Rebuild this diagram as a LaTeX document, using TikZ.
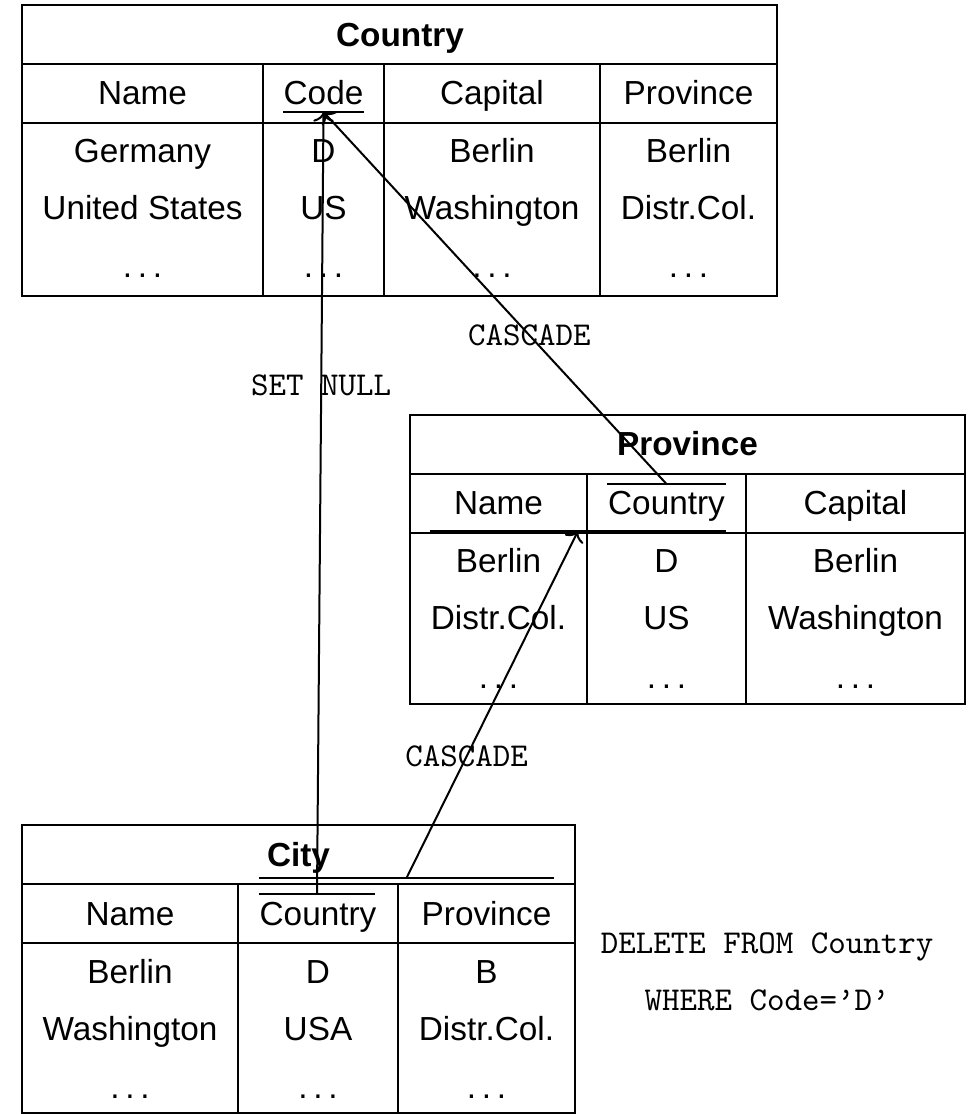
\documentclass[tikz,border=0pt]{standalone}
\usepackage{fontspec}
\setmainfont{Liberation Sans}
\usetikzlibrary{arrows.meta,calc}

\newcommand\rowdots{.\kern.17em.\kern.17em.}
\tikzset{cell/.style={anchor=base,inner sep=0pt},
		keyline/.style={line width=.8pt},
		rulelabel/.style={font=\ttfamily,inner sep=0pt}}

\begin{document}
\begin{tikzpicture}[x=.3pt,y=-.3pt,semithick]
			\useasboundingbox (0,0) rectangle (967,1114);
			% Country
			\draw (22,5) rectangle (777,296) (22,64) -- (777,64) (22,123) -- (777,123)
			(263,64) -- (263,296) (384,64) -- (384,296) (600,64) -- (600,296);
			\node[cell,font=\bfseries] (country) at (400,47) {Country};
			\foreach \x/\t/\a/\b [count=\i] in {142.5/Name/Germany/United States,323.5/Code/D/US,
				492/Capital/Berlin/Washington,688.5/Province/Berlin/Distr.Col.}{
				\node[cell] (ctry-h\i) at (\x,105) {\t};
				\node[cell] (ctry-\i-1) at (\x,163) {\a};
				\node[cell] (ctry-\i-2) at (\x,220) {\b};
				\node[cell] (ctry-\i-3) at (\x,278) {\rowdots};
			}
			\draw[keyline] (283,112) -- coordinate (code) (364,112);
			% Province
			\draw (410,415) rectangle (965,704) (410,474) -- (965,474) (410,533) -- (965,533)
			(587,474) -- (587,704) (746,474) -- (746,704);
			\node[cell,font=\bfseries] (province) at (687.5,456) {Province};
			\foreach \x/\t/\a/\b [count=\i] in {498.5/Name/Berlin/Distr.Col.,666.5/Country/D/US,
				855.5/Capital/Berlin/Washington}{
				\node[cell] (prov-h\i) at (\x,515) {\t};
				\node[cell] (prov-\i-1) at (\x,573) {\a};
				\node[cell] (prov-\i-2) at (\x,630) {\b};
				\node[cell] (prov-\i-3) at (\x,688) {\rowdots};
			}
			\draw[keyline] (607,484) -- coordinate (provctry) (726,484);
			\draw[keyline] (430,531) -- coordinate (provkey) (726,531);
			% City
			\draw (22,825) rectangle (575,1113) (22,884) -- (575,884) (22,943) -- (575,943)
			(238,884) -- (238,1113) (398,884) -- (398,1113);
			\node[cell,font=\bfseries] (city) at (298.5,866) {City};
			\foreach \x/\t/\a/\b [count=\i] in {130/Name/Berlin/Washington,318/Country/D/USA,
				486.5/Province/B/Distr.Col.}{
				\node[cell] (city-h\i) at (\x,925) {\t};
				\node[cell] (city-\i-1) at (\x,983) {\a};
				\node[cell] (city-\i-2) at (\x,1040) {\b};
				\node[cell] (city-\i-3) at (\x,1098) {\rowdots};
			}
			\draw[keyline] (259,894) -- coordinate (cityctry) (375,894);
			\draw[keyline] (259,878) -- coordinate (citykey) (554,878);
			% references
			\draw[->] (cityctry) -- node[rulelabel,pos=.65] (setnull) {SET NULL} (code);
			\draw[->] (provctry) -- node[rulelabel,pos=.40] (cascade1) {CASCADE} (code);
			\draw[->] (citykey) -- node[rulelabel,pos=.35] (cascade2) {CASCADE} (provkey);
			\node[cell,font=\ttfamily] (delete) at (767,953) {DELETE FROM Country};
			\node[cell,font=\ttfamily] (where) at (767,1010) {WHERE Code=’D’};
		\end{tikzpicture}
\end{document}
